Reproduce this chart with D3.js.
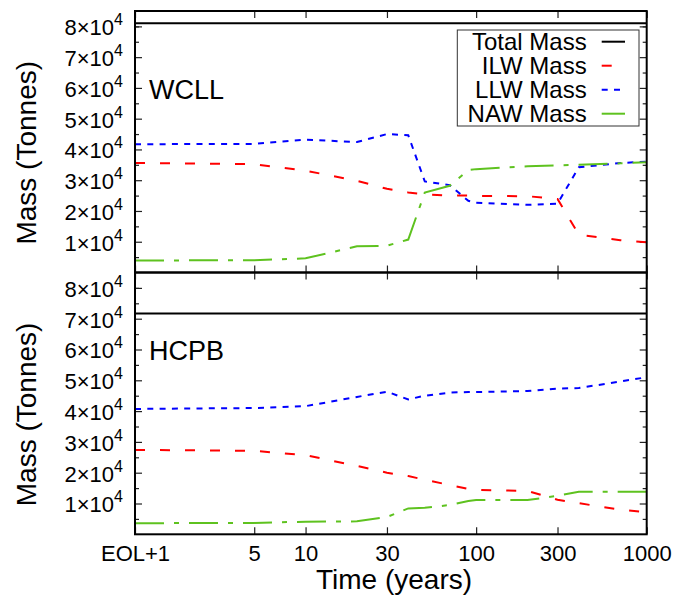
<!DOCTYPE html>
<html>
<head>
<meta charset="utf-8">
<script src="https://cdn.jsdelivr.net/npm/d3@7"></script>
<style>
  body { margin: 0; background: #fff; }
  svg { display: block; font-family: "Liberation Sans", Arial, sans-serif; }
</style>
</head>
<body>
<svg id="chart" width="674" height="596"></svg>
<script>
// time after end of life (years)
const years = [1, 5, 10, 20, 30, 40, 50, 70, 90, 100, 200, 300, 400, 700, 1000];
const xTicks = [1, 5, 10, 30, 100, 300, 1000];
const xTickLabels = ["EOL+1", "5", "10", "30", "100", "300", "1000"];
const yTicks = [10000, 20000, 30000, 40000, 50000, 60000, 70000, 80000];

// WCLL masses (tonnes)
const wcllTotal = [81000, 81000, 81000, 81000, 81000, 81000, 81000, 81000, 81000, 81000, 81000, 81000, 81000, 81000, 81000];
const wcllILW = [35600, 35200, 33100, 29800, 27200, 26000, 25400, 25000, 25000, 24900, 24800, 23900, 12300, 10500, 9800];
const wcllLLW = [41700, 41800, 43200, 42400, 45000, 44600, 29600, 28400, 23300, 22700, 22000, 22400, 34200, 35600, 36000];
const wcllNAW = [3900, 4000, 4600, 8500, 8700, 10700, 26000, 28200, 33300, 33600, 34500, 34800, 35000, 35500, 35800];

// HCPB masses (tonnes)
const hcpbTotal = [71700, 71700, 71700, 71700, 71700, 71700, 71700, 71700, 71700, 71700, 71700, 71700, 71700, 71700, 71700];
const hcpbILW = [27400, 27100, 25700, 22200, 20000, 18900, 17700, 16000, 14700, 14400, 14100, 11200, 10100, 8000, 7200];
const hcpbLLW = [40700, 41000, 41600, 44600, 46300, 43800, 45000, 46000, 46200, 46200, 46500, 47300, 47500, 49600, 51000];
const hcpbNAW = [3600, 3700, 4100, 4200, 5600, 8400, 8600, 9500, 10800, 11100, 11100, 12500, 13800, 13800, 13800];

const seriesNames = ["Total Mass", "ILW Mass", "LLW Mass", "NAW Mass"];
const styles = [
    {color: "#000000", dash: null},
    {color: "#ff0000", dash: "10,15"},
    {color: "#0000ff", dash: "6,6.3"},
    {color: "#5ec21f", dash: "29,10,5,10"}
];

const svg = d3.select("#chart");
const left = 135, right = 646.7;

let x = d3.scaleLog()
    .domain([1, 1000])
    .range([left, right]);

function drawPanel(top, bottom, name, data, withLabels, clipId) {
    let y = d3.scaleLinear()
        .domain([0, 85000])
        .range([bottom, top]);

    let g = svg.append("g");

    g.append("clipPath").attr("id", clipId)
        .append("rect")
        .attr("x", left).attr("y", top)
        .attr("width", right - left).attr("height", bottom - top);

    // bottom axis
    let xb = g.append("g")
        .attr("transform", "translate(0," + bottom + ")")
        .call(d3.axisBottom(x).tickValues(xTicks).tickSizeInner(-7).tickSizeOuter(0)
            .tickFormat((d, i) => xTickLabels[i]));
    // top axis (mirror)
    let xt = g.append("g")
        .attr("transform", "translate(0," + top + ")")
        .call(d3.axisTop(x).tickValues(xTicks).tickSizeInner(-7).tickSizeOuter(0).tickFormat(""));

    // left axis, major + minor
    let yl = g.append("g")
        .attr("transform", "translate(" + left + ",0)")
        .call(d3.axisLeft(y).tickValues(yTicks).tickSizeInner(-7).tickSizeOuter(0));
    let ylm = g.append("g")
        .attr("transform", "translate(" + left + ",0)")
        .call(d3.axisLeft(y).tickValues(yTicks.map(v => v - 5000).concat([85000 - 5000])).tickSizeInner(-4).tickSizeOuter(0).tickFormat(""));
    // right axis (mirror)
    let yr = g.append("g")
        .attr("transform", "translate(" + right + ",0)")
        .call(d3.axisRight(y).tickValues(yTicks).tickSizeInner(-7).tickSizeOuter(0).tickFormat(""));
    let yrm = g.append("g")
        .attr("transform", "translate(" + right + ",0)")
        .call(d3.axisRight(y).tickValues(yTicks.map(v => v - 5000).concat([85000 - 5000])).tickSizeInner(-4).tickSizeOuter(0).tickFormat(""));

    [xb, xt, yl, ylm, yr, yrm].forEach(a => {
        a.select(".domain").remove();
        a.selectAll("line").attr("stroke", "#222").attr("stroke-width", 1.2);
    });

    if (withLabels) {
        xb.selectAll("text")
            .attr("y", 27).attr("dy", null)
            .attr("font-size", 22).attr("font-family", null).attr("fill", "#000");
    } else {
        xb.selectAll("text").remove();
    }

    yl.selectAll("text")
        .attr("x", -12).attr("dy", "0.38em")
        .attr("font-size", 22).attr("font-family", null).attr("fill", "#000")
        .each(function(d) {
            let t = d3.select(this);
            t.text(null);
            t.append("tspan").text((d / 10000) + "×10");
            t.append("tspan").attr("dy", -10).attr("font-size", 16).text("4");
        });

    // series lines
    let line = d3.line()
        .x((d, i) => x(years[i]))
        .y(d => y(d));

    let lines = g.append("g").attr("clip-path", "url(#" + clipId + ")");
    data.forEach((s, k) => {
        lines.append("path")
            .datum(s)
            .attr("fill", "none")
            .attr("stroke", styles[k].color)
            .attr("stroke-width", 2)
            .attr("stroke-dasharray", styles[k].dash)
            .attr("d", line);
    });

    // frame
    g.append("rect")
        .attr("x", left).attr("y", top)
        .attr("width", right - left).attr("height", bottom - top)
        .attr("fill", "none").attr("stroke", "#000").attr("stroke-width", 2);

    // panel name
    g.append("text")
        .attr("x", 149).attr("y", top + 87.5)
        .attr("font-size", 27)
        .text(name);

    // y axis title
    g.append("text")
        .attr("transform", "translate(36," + ((top + bottom) / 2 + 11) + ") rotate(-90)")
        .attr("text-anchor", "middle")
        .attr("font-size", 28)
        .text("Mass (Tonnes)");
}

drawPanel(11, 272.5, "WCLL", [wcllTotal, wcllILW, wcllLLW, wcllNAW], false, "clipTop");
drawPanel(272.5, 534.3, "HCPB", [hcpbTotal, hcpbILW, hcpbLLW, hcpbNAW], true, "clipBottom");

// legend
let legend = svg.append("g");
legend.append("rect")
    .attr("x", 457.3).attr("y", 30)
    .attr("width", 181.7).attr("height", 96)
    .attr("fill", "#fff").attr("stroke", "#333").attr("stroke-width", 1);

seriesNames.forEach((n, i) => {
    let cy = 41.7 + i * 24;
    legend.append("text")
        .attr("x", 586.7).attr("y", cy + 8.5)
        .attr("text-anchor", "end")
        .attr("font-size", 24)
        .text(n);
    legend.append("line")
        .attr("x1", 601.7).attr("x2", 625)
        .attr("y1", cy).attr("y2", cy)
        .attr("stroke", styles[i].color)
        .attr("stroke-width", 2)
        .attr("stroke-dasharray", styles[i].dash);
});

// x axis title
svg.append("text")
    .attr("x", 394).attr("y", 589)
    .attr("text-anchor", "middle")
    .attr("font-size", 28)
    .text("Time (years)");
</script>
</body>
</html>
